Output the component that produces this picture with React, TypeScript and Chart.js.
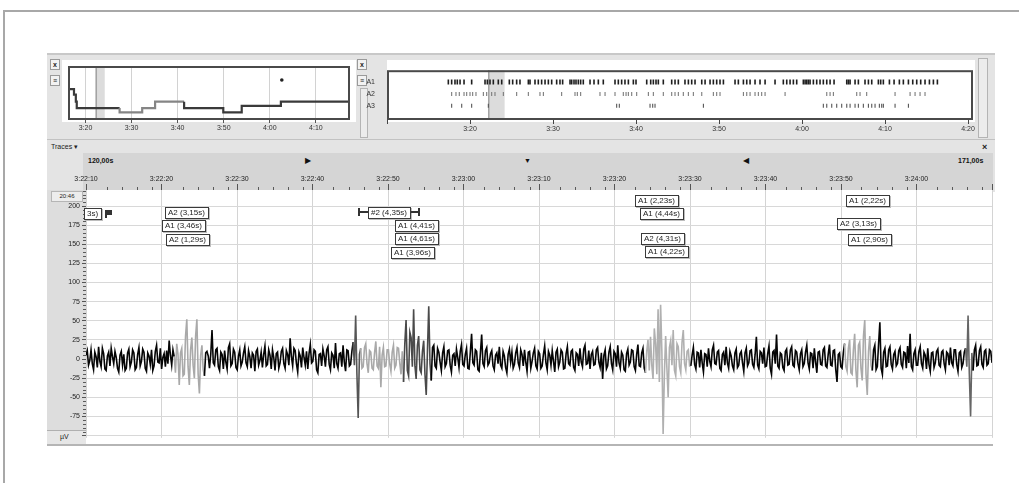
import React, { useEffect, useRef } from "react";
import { Chart, registerables } from "chart.js";

Chart.register(...registerables);

const FONT = "'Liberation Sans', Arial, sans-serif";

// ---------- Overview (top-left, minutes) ----------
const OVERVIEW_TIMES = [196.2, 197.5, 197.9, 198.1, 207.4, 212.3, 215.1, 221.4, 229.9, 233.9, 242.4, 243.7, 257.4];
const OVERVIEW_LEVELS = [6.7, 5.7, 4.7, 3.4, 2.2, 1.4, 2.2, 3.4, 2.2, 1.4, 2.6, 3.4, 3.4];
const OVERVIEW_DIM_RANGE = [207.4, 221.4];
const OVERVIEW_MARK_TIMES = [242.6];
const OVERVIEW_MARK_LEVELS = [7.4];
const OVERVIEW_TICKS = [200, 210, 220, 230, 240, 250];
const VIEW_WINDOW = [202.17, 204.17];

// ---------- Raster (top-right, minutes) ----------
const RASTER_UNITS = ["A1", "A2", "A3"];
const RASTER_A1 = [
  197.39, 197.79, 198.19, 198.47, 198.8, 199.28, 200.2, 201.81, 202.09, 202.41, 202.81, 203.41, 203.82,
  204.74, 205.14, 205.62, 206.02, 207.03, 207.23, 207.83, 208.23, 208.63, 209.04, 209.44, 209.84, 210.44,
  210.84, 211.16, 212.05, 212.25, 212.53, 212.77, 213.05, 213.33, 213.65, 214.46, 214.94, 215.46, 216.06,
  217.47, 217.87, 218.27, 218.67, 219.08, 219.68, 220.0, 221.29, 221.77, 222.09, 222.41, 222.69, 223.29,
  224.3, 224.7, 225.1, 225.9, 226.31, 226.71, 227.11, 227.92, 228.32, 228.92, 229.32, 229.72, 230.12,
  230.53, 231.93, 232.33, 232.94, 233.34, 233.74, 234.34, 234.94, 235.55, 236.75, 237.75, 238.16, 238.56,
  238.96, 239.36, 240.16, 240.37, 240.57, 240.77, 240.97, 241.37, 241.77, 242.17, 242.57, 242.98, 243.38,
  243.86, 245.39, 245.59, 245.79, 246.39, 246.79, 247.59, 248.0, 248.4, 249.2, 249.48, 249.8, 250.53,
  251.09, 251.73, 252.21, 252.82, 253.34, 253.82, 254.3, 254.82, 255.35, 255.83, 256.31,
];
const RASTER_A2 = [
  197.79, 198.31, 198.71, 199.28, 199.6, 200.0, 200.32, 200.72, 201.61, 202.01, 202.61, 203.01, 204.02,
  205.62, 207.03, 208.43, 208.84, 211.04, 212.65, 212.93, 213.33, 215.66, 216.27, 217.47, 218.47, 218.8,
  219.08, 219.48, 220.08, 221.49, 222.09, 223.29, 224.3, 224.7, 225.1, 225.7, 226.31, 226.91, 227.92,
  229.32, 229.72, 230.12, 232.94, 233.34, 233.74, 234.34, 234.74, 235.14, 235.55, 237.96, 242.98, 243.38,
  243.78, 246.59, 246.99, 247.79, 251.21, 253.02, 253.62, 254.22, 254.82,
];
const RASTER_A3 = [
  197.79, 199.0, 200.2, 202.21, 217.67, 217.99, 221.69, 222.01, 222.29, 228.12, 242.57, 242.98, 243.58,
  244.18, 244.78, 245.39, 245.79, 246.39, 246.79, 247.39, 248.0, 248.4, 248.8, 249.32, 249.6, 249.8,
  251.21, 252.82,
];
const RASTER_TICKS = [200, 210, 220, 230, 240, 250, 260];

// ---------- Trace (seconds from 3:22:10, µV) ----------
const TRACE_START_S = -0.8;
const TRACE_STEP_S = 0.16704;
const TRACE_UV = [
  5, 11, -8, -2, 12, -6, -14, 9, 3, -11, 16, -3, -10, 14, 7, -13, -15, 4, 9, -9,
  14, 3, -6, 10, 2, -12, -17, 5, 10, -8, 6, -15, -12, 8, 13, -10, -4, 12, 8, -14,
  -11, 6, 15, -9, -3, 13, 9, -12, -16, 8, 4, -7, 12, -15, -9, 10, 18, -4, -5, 14,
  -13, 2, 7, -10, 11, -6, 24, 5, -8, 12, 3, -18, 20, 6, -34, 8, 14, -22, -20, 30,
  52, -10, -34, 12, 28, -8, -25, 30, 52, -20, -45, 5, 18, -14, -22, 8, 10, 4, -12, 6,
  38, -5, -8, 12, 14, -10, -15, 9, 6, -13, 11, -4, -13, 15, 20, -9, -6, 13, 9, -11,
  -14, 4, 12, -9, -4, 8, 16, -5, -10, 11, 3, -12, 8, 5, -16, 10, 13, -8, -2, 9,
  -11, 6, 17, -9, -7, 12, 5, -13, 12, 2, -15, 7, 9, -12, -5, 10, 14, -6, -12, 11,
  6, -8, 27, 3, -9, 14, 11, -6, -17, 9, 4, -11, 15, 2, -8, 10, -13, 7, 19, -5,
  -3, 12, 10, -14, -18, 6, 7, -9, 13, 4, -10, 12, 16, -7, -14, 8, 5, -12, 21, -6,
  -12, 7, 8, -10, 18, -4, -16, 12, 11, -9, -7, 10, 22, -8, 57, -20, -77, 6, 14, -12,
  -10, 15, 20, -6, -18, 11, 9, -12, -14, 8, 23, -9, -12, 16, -37, 5, 15, -10, -9, 12,
  12, -6, -16, 9, 18, -12, -8, 15, 14, -5, -20, 10, -30, 20, 51, -15, -22, 35, 28, -10,
  65, -8, -26, 18, 30, -14, -18, 10, 24, -20, -47, 12, 69, -6, -28, 15, 18, -9, -12, 14,
  9, -4, -15, 8, 16, -10, -6, 11, 12, -8, -17, 5, 7, -9, 13, 2, -11, 10, 19, -7,
  -9, 6, 14, -12, -13, 9, 33, -5, -8, 12, 10, -14, -16, 8, 32, -6, -10, 11, 15, -8,
  -5, 7, 11, -9, -14, 5, 8, -6, 16, -8, -12, 10, 4, -11, -18, 6, 13, -4, 9, -12,
  -7, 8, 15, -5, -11, 12, 6, -9, 12, -4, -16, 9, 10, -12, -3, 8, 14, -9, -13, 10,
  7, -12, -9, 6, 17, -5, -14, 10, 5, -8, 11, -3, -17, 9, 13, -10, -4, 12, 9, -13,
  -12, 7, 16, -6, -8, 10, 12, -11, -15, 8, 6, -9, 14, -4, -10, 13, 18, -7, -6, 11,
  -13, 6, 10, -8, -7, 12, 15, -4, -11, 8, -26, 5, 12, -13, -9, 9, 16, -6, -14, 10,
  7, -10, 18, -5, -12, 9, 5, -14, -16, 7, 13, -8, -4, 12, 11, -10, -15, 6, 19, -9,
  -10, 8, 14, -12, -18, 10, 25, -15, 29, -8, -26, 40, 20, -20, 65, -30, 71, 10, -98, -20,
  30, -12, -50, 15, 24, -8, 38, -15, -22, 20, 16, -10, -18, 22, 38, -6, -14, 10, 12, -9,
  -9, 5, 15, -7, -13, 9, 8, -11, 12, -5, -17, 7, 6, -10, 14, -3, -10, 12, 18, -6,
  -7, 9, 11, -12, -15, 6, 9, -8, 16, -5, -12, 10, 4, -9, -14, 8, 13, -11, -8, 7,
  10, -5, -16, 8, 14, -9, -5, 11, 12, -7, -11, 6, 29, -8, -13, 10, 8, -6, 15, -10,
  -9, 7, 17, -12, -20, 9, 11, -6, 32, -9, -12, 8, 6, -11, -15, 10, 13, -8, -7, 12,
  16, -8, -10, 11, 9, -6, -14, 7, 12, -10, -6, 9, 18, -5, -13, 8, 7, -12, 14, -4,
  -18, 9, 10, -7, -8, 12, 15, -9, -11, 6, 19, -8, -9, 11, 12, -14, -30, 6, 8, -10,
  -12, 8, 20, -10, -16, 14, 25, -18, -20, 12, 33, -15, -37, 18, 22, -12, -28, 30, 51, -20,
  -47, 10, 30, -8, -15, 12, 18, -14, -10, 20, 48, -12, -20, 9, 14, -10, -9, 12, 16, -7,
  -13, 6, 10, -9, -6, 11, 15, -7, -11, 9, 8, -12, 17, -5, 33, -10, -14, 7, 12, -8,
  -8, 10, 16, -6, -12, 9, 5, -13, 14, -7, -16, 8, 9, -11, -5, 10, 13, -8, -10, 9,
  11, -6, -14, 9, 7, -8, 15, -5, -9, 12, 12, -7, -16, 8, 10, -11, -6, 9, 14, -10,
  57, -20, -75, 8, -15, 12, 18, -9, -8, 11, 16, -7, -11, 10, 12, -8, -6, 12, 10, -5,
];
const SHADE_FROM = [70, 212, 218, 252, 444, 602, 698];
const SHADE_TO = [94, 218, 252, 274, 480, 624, 704];
const SHADE_COLOR = ["#a9a9a9", "#555555", "#a9a9a9", "#4a4a4a", "#b0b0b0", "#aaaaaa", "#666666"];

const RULER_LABELS = [
  "3:22:10", "3:22:20", "3:22:30", "3:22:40", "3:22:50", "3:23:00",
  "3:23:10", "3:23:20", "3:23:30", "3:23:40", "3:23:50", "3:24:00",
];
const Y_TICKS = [-75, -50, -25, 0, 25, 50, 75, 100, 125, 150, 175, 200];

const ANNOTATION_TEXT = [
  "3s)", "A2 (3,15s)", "A1 (3,46s)", "A2 (1,29s)", "#2 (4,35s)", "A1 (4,41s)", "A1 (4,61s)", "A1 (3,96s)",
  "A1 (2,23s)", "A1 (4,44s)", "A2 (4,31s)", "A1 (4,22s)", "A1 (2,22s)", "A2 (3,13s)", "A1 (2,90s)",
];
const ANNOTATION_TIME = [-1.06, 9.67, 9.27, 9.8, 36.56, 40.13, 40.13, 39.6, 71.92, 72.58, 72.72, 73.25, 100.0, 98.81, 100.26];
const ANNOTATION_UV = [191.3, 192.6, 174.7, 156.9, 192.6, 174.7, 158.2, 140.3, 207.9, 191.3, 158.2, 141.6, 207.9, 177.3, 156.9];
const ANNOTATION_MARK = ["flag", "", "", "", "both", "", "", "", "", "", "", "", "", "", ""];

const fmtMin = (m: number) => `${Math.floor(m / 60)}:${String(Math.round(m % 60)).padStart(2, "0")}`;

function ChartBox({ make, left, top, width, height }: any) {
  const ref = useRef<HTMLCanvasElement>(null);
  useEffect(() => {
    const chart = new Chart(ref.current as HTMLCanvasElement, make());
    return () => chart.destroy();
  }, []);
  return (
    <canvas
      ref={ref}
      width={width}
      height={height}
      style={{ position: "absolute", left, top, width, height }}
    />
  );
}

const framePlugin = (lw: number, color: string) => ({
  id: "frame",
  afterDraw(chart: any) {
    const { ctx, chartArea: a } = chart;
    ctx.save();
    ctx.strokeStyle = color;
    ctx.lineWidth = lw;
    ctx.strokeRect(a.left + lw / 2, a.top + lw / 2, a.right - a.left - lw, a.bottom - a.top - lw);
    ctx.restore();
  },
});

const windowPlugin = {
  id: "viewWindow",
  beforeDatasetsDraw(chart: any) {
    const { ctx, chartArea: a, scales } = chart;
    const x1 = scales.x.getPixelForValue(VIEW_WINDOW[0]);
    const x2 = scales.x.getPixelForValue(VIEW_WINDOW[1]);
    ctx.save();
    ctx.fillStyle = "#dcdcdc";
    ctx.fillRect(x1, a.top, x2 - x1, a.bottom - a.top);
    ctx.fillStyle = "#a3a3a3";
    ctx.fillRect(x1, a.top, 1.5, a.bottom - a.top);
    ctx.restore();
  },
};

function overviewConfig(): any {
  return {
    type: "line",
    data: {
      datasets: [
        {
          data: OVERVIEW_TIMES.map((t, i) => ({ x: t, y: OVERVIEW_LEVELS[i] })),
          stepped: "after",
          borderColor: "#3a3a3a",
          borderWidth: 2.2,
          pointRadius: 0,
          segment: {
            borderColor: (c: any) =>
              c.p0.parsed.x >= OVERVIEW_DIM_RANGE[0] && c.p0.parsed.x < OVERVIEW_DIM_RANGE[1] ? "#858585" : undefined,
          },
        },
        {
          type: "scatter",
          data: OVERVIEW_MARK_TIMES.map((t, i) => ({ x: t, y: OVERVIEW_MARK_LEVELS[i] })),
          pointRadius: 1.8,
          backgroundColor: "#222",
          borderWidth: 0,
        },
      ],
    },
    options: {
      animation: false,
      responsive: false,
      events: [],
      layout: { padding: 0 },
      plugins: { legend: { display: false }, tooltip: { enabled: false } },
      scales: {
        x: {
          type: "linear",
          min: 196.2,
          max: 257.4,
          afterFit: (s: any) => { s.height = 14; },
          border: { display: false },
          grid: { color: "#d2d2d2", tickLength: 3, tickColor: "#555" },
          ticks: {
            stepSize: 10,
            includeBounds: false,
            autoSkip: false,
            maxRotation: 0,
            padding: 1,
            color: "#333",
            font: { family: FONT, size: 7 },
            callback: (v: number) => (OVERVIEW_TICKS.includes(v) ? fmtMin(v) : ""),
          },
        },
        y: { display: false, min: 0, max: 10 },
      },
    },
    plugins: [windowPlugin, framePlugin(2, "#4a4a4a")],
  };
}

function rasterConfig(): any {
  const rows = [RASTER_A1, RASTER_A2, RASTER_A3];
  const colors = ["#1e1e1e", "#7a7a7a", "#555555"];
  return {
    type: "scatter",
    data: {
      datasets: rows.map((r, k) => ({
        data: r.map((t) => ({ x: t, y: k + 1 })),
        pointStyle: "line",
        rotation: 90,
        radius: k === 0 ? 2.5 : 2,
        borderWidth: k === 0 ? 1.6 : 1.1,
        borderColor: colors[k],
      })),
    },
    options: {
      animation: false,
      responsive: false,
      events: [],
      layout: { padding: { right: 12, left: 0, top: 0, bottom: 0 } },
      plugins: { legend: { display: false }, tooltip: { enabled: false } },
      scales: {
        x: {
          type: "linear",
          min: 190,
          max: 260.6,
          afterFit: (s: any) => { s.height = 14; },
          border: { display: false },
          grid: { drawOnChartArea: false, tickLength: 4, color: "#444" },
          ticks: {
            stepSize: 10,
            includeBounds: false,
            autoSkip: false,
            maxRotation: 0,
            padding: 1,
            color: "#333",
            font: { family: FONT, size: 7 },
            callback: (v: number) => (RASTER_TICKS.includes(v) ? fmtMin(v) : ""),
          },
        },
        y: {
          min: 0,
          max: 4.2,
          reverse: true,
          afterFit: (s: any) => { s.width = 27; },
          border: { display: false },
          grid: { display: false },
          ticks: {
            stepSize: 1,
            includeBounds: false,
            padding: 4,
            color: "#333",
            font: { family: FONT, size: 7 },
            callback: (v: number) => RASTER_UNITS[v - 1] ?? "",
          },
        },
      },
    },
    plugins: [windowPlugin, framePlugin(2, "#4a4a4a")],
  };
}

const tracePlugin = {
  id: "traceDecor",
  beforeDraw(chart: any) {
    const { ctx, chartArea: a } = chart;
    ctx.save();
    ctx.fillStyle = "#ffffff";
    ctx.fillRect(a.left, a.top, a.right - a.left, a.bottom - a.top);
    ctx.restore();
  },
  afterDraw(chart: any) {
    const { ctx, chartArea: a, scales } = chart;
    const xs = scales.x;
    const ys = scales.y;
    ctx.save();
    ctx.strokeStyle = "#5a5a5a";
    ctx.lineWidth = 1;
    ctx.beginPath();
    for (let s = 0; s <= 118; s += 2) {
      if (s % 10 === 0) continue;
      const px = Math.round(xs.getPixelForValue(s)) + 0.5;
      ctx.moveTo(px, a.top - 3);
      ctx.lineTo(px, a.top);
    }
    for (let v = -100; v <= 220; v += 5) {
      if (v % 25 === 0) continue;
      const py = Math.round(ys.getPixelForValue(v)) + 0.5;
      ctx.moveTo(a.left - 3, py);
      ctx.lineTo(a.left, py);
    }
    ctx.stroke();

    ctx.font = `8px ${FONT}`;
    ctx.textBaseline = "middle";
    const h = 11;
    ANNOTATION_TEXT.forEach((text, i) => {
      const px = Math.round(xs.getPixelForValue(ANNOTATION_TIME[i]));
      const py = Math.round(ys.getPixelForValue(ANNOTATION_UV[i]));
      const w = Math.round(ctx.measureText(text).width + 6);
      const top = py - Math.floor(h / 2);
      ctx.fillStyle = "#bdbdbd";
      ctx.fillRect(px + 1, top + 1, w + 1, h + 1);
      ctx.fillStyle = "#ffffff";
      ctx.fillRect(px, top, w, h);
      ctx.strokeStyle = "#3a3a3a";
      ctx.strokeRect(px + 0.5, top + 0.5, w, h);
      ctx.fillStyle = "#1e1e1e";
      ctx.fillText(text, px + 3, py + 1);
      ctx.fillStyle = "#333";
      if (ANNOTATION_MARK[i] === "both") {
        ctx.fillRect(px - 9, py - 1, 9, 2);
        ctx.fillRect(px - 10, py - 4, 2, 8);
        ctx.fillRect(px + w + 1, py - 1, 8, 2);
        ctx.fillRect(px + w + 8, py - 4, 2, 8);
      } else if (ANNOTATION_MARK[i] === "flag") {
        ctx.fillRect(px + w + 4, py - 3, 2, 8);
        ctx.fillRect(px + w + 5, py - 3, 6, 5);
      }
    });
    ctx.restore();
  },
};

function traceConfig(): any {
  const shade = (i: number) => {
    for (let k = 0; k < SHADE_FROM.length; k++) {
      if (i >= SHADE_FROM[k] && i < SHADE_TO[k]) return SHADE_COLOR[k];
    }
    return undefined;
  };
  return {
    type: "line",
    data: {
      datasets: [
        {
          data: TRACE_UV.map((v, i) => ({ x: TRACE_START_S + i * TRACE_STEP_S, y: v })),
          borderColor: "#050505",
          borderWidth: 1.6,
          pointRadius: 0,
          tension: 0,
          segment: { borderColor: (c: any) => shade(c.p0DataIndex) },
        },
      ],
    },
    options: {
      animation: false,
      responsive: false,
      events: [],
      layout: { padding: 0 },
      plugins: { legend: { display: false }, tooltip: { enabled: false } },
      scales: {
        x: {
          type: "linear",
          position: "top",
          min: -0.8,
          max: 119.3,
          afterFit: (s: any) => { s.height = 22; },
          border: { display: false },
          grid: { color: "#d4d4d4", tickLength: 6, tickColor: "#555" },
          ticks: {
            stepSize: 10,
            includeBounds: false,
            autoSkip: false,
            maxRotation: 0,
            padding: 1,
            color: "#222",
            font: { family: FONT, size: 7 },
            callback: (v: number) => RULER_LABELS[Math.round(v / 10)] ?? "",
          },
        },
        y: {
          min: -103,
          max: 221,
          afterFit: (s: any) => { s.width = 39; },
          border: { display: false },
          grid: { color: "#d8d8d8", tickLength: 4, tickColor: "#555" },
          ticks: {
            stepSize: 25,
            includeBounds: false,
            padding: 2,
            color: "#222",
            font: { family: FONT, size: 7 },
            callback: (v: number) => (Y_TICKS.includes(v) ? String(v) : ""),
          },
        },
      },
    },
    plugins: [tracePlugin],
  };
}

const abs = (s: any) => ({ position: "absolute" as const, ...s });

function Btn({ left, top, ch }: any) {
  return (
    <div
      style={abs({
        left, top, width: 8, height: 9, background: "#f2f2f2", border: "1px solid #9a9a9a",
        fontSize: 7, lineHeight: "9px", textAlign: "center", color: "#222", fontWeight: "bold",
      })}
    >
      {ch}
    </div>
  );
}

export default function App() {
  return (
    <div style={abs({ left: 0, top: 0, width: 1019, height: 483, overflow: "hidden", background: "#fff", fontFamily: FONT })}>
      <div style={abs({ left: 3, top: 10, width: 1040, height: 500, border: "2px solid #a8a8a8" })} />
      {/* window chrome */}
      <div style={abs({ left: 47, top: 53, width: 948, height: 137, background: "#e4e4e4", borderTop: "2px solid #c8c8c8" })} />
      <div style={abs({ left: 47, top: 139, width: 948, height: 1, background: "#c2c2c2" })} />
      <div style={abs({ left: 62, top: 60, width: 294, height: 62, background: "#fff" })} />
      <div style={abs({ left: 387, top: 60, width: 588, height: 62, background: "#fff" })} />
      <Btn left={50} top={59} ch="x" />
      <Btn left={50} top={75} ch="≡" />
      <Btn left={357} top={59} ch="x" />
      <Btn left={357} top={75} ch="≡" />
      <div style={abs({ left: 360, top: 88, width: 6, height: 48, border: "1px solid #b4b4b4", background: "#ececec" })} />
      <div style={abs({ left: 978, top: 58, width: 8, height: 78, border: "1px solid #b4b4b4", background: "#ececec" })} />
      <div style={abs({ left: 51, top: 143, fontSize: 7, color: "#222", whiteSpace: "nowrap" })}>Traces ▾</div>
      <div style={abs({ left: 982, top: 142, fontSize: 9, fontWeight: "bold", color: "#222" })}>×</div>
      <div style={abs({ left: 83, top: 153, width: 910, height: 37, background: "#d5d5d5" })} />
      <div style={abs({ left: 88, top: 157, fontSize: 7, fontWeight: "bold", color: "#111" })}>120,00s</div>
      <div style={abs({ left: 958, top: 157, fontSize: 7, fontWeight: "bold", color: "#111" })}>171,00s</div>
      <div style={abs({ left: 305, top: 156, fontSize: 8, color: "#111" })}>▶</div>
      <div style={abs({ left: 524, top: 157, fontSize: 7, color: "#111" })}>▼</div>
      <div style={abs({ left: 743, top: 156, fontSize: 8, color: "#111" })}>◀</div>
      {/* y axis column */}
      <div style={abs({ left: 47, top: 190, width: 39, height: 254, background: "#dddddd" })} />
      <div
        style={abs({
          left: 51, top: 191, width: 30, height: 9, background: "#ededed", border: "1px solid #b5b5b5",
          fontSize: 6, lineHeight: "9px", textAlign: "center", color: "#222",
        })}
      >
        20:46
      </div>
      <div style={abs({ left: 47, top: 430, width: 39, height: 14, borderTop: "1px solid #b0b0b0", background: "#e6e6e6" })} />
      <div style={abs({ left: 60, top: 433, fontSize: 7, color: "#222" })}>µV</div>
      <div style={abs({ left: 47, top: 444, width: 946, height: 2, background: "#b5b5b5" })} />

      <ChartBox make={overviewConfig} left={64} top={62} width={290} height={72} />
      <ChartBox make={rasterConfig} left={360} top={62} width={625} height={72} />
      <ChartBox make={traceConfig} left={47} top={168} width={946} height={276} />
    </div>
  );
}
